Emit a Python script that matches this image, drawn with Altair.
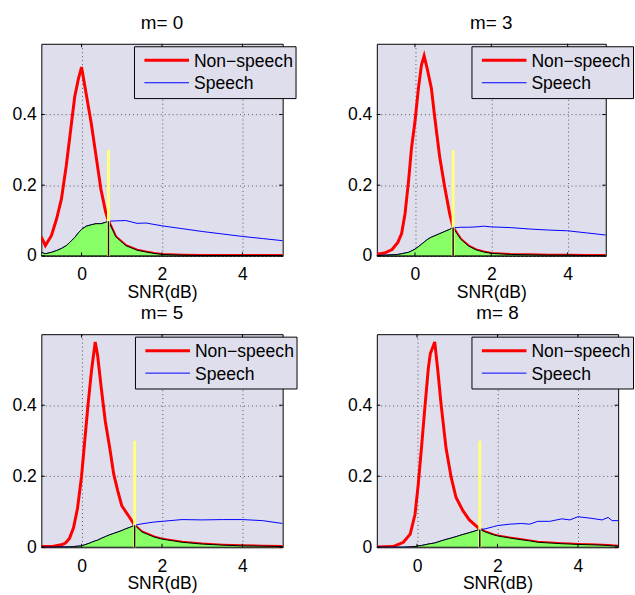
import altair as alt
import pandas as pd
import numpy as np

TITLES = ["m= 0", "m= 3", "m= 5", "m= 8"]
SERIES = ["Non−speech", "Speech"]
X_TICKS = [0, 2, 4]
Y_TICKS = [0, 0.2, 0.4]
THRESHOLDS = [0.67, 1.0, 1.32, 1.56]
YELLOW_TOP = 0.3

X_M0 = [-1.0, -0.9, -0.75, -0.62, -0.5, -0.38, -0.25, -0.17, -0.08, 0.0, 0.12, 0.24, 0.36, 0.48,
        0.6, 0.67, 0.85, 1.1, 1.38, 1.6, 1.8, 2.0, 2.5, 3.0, 3.5, 4.0, 4.5, 5.0]
NS_M0 = [0.054, 0.029, 0.057, 0.105, 0.161, 0.255, 0.376, 0.45, 0.5, 0.534, 0.455, 0.376, 0.283, 0.189,
         0.124, 0.098, 0.054, 0.029, 0.016, 0.011, 0.007, 0.004, 0.002, 0.001, 0.001, 0.001, 0.001, 0.001]
SP_M0 = [0.010, 0.006, 0.010, 0.015, 0.021, 0.029, 0.043, 0.052, 0.065, 0.075, 0.084, 0.088, 0.091, 0.091,
         0.095, 0.098, 0.099, 0.100, 0.092, 0.093, 0.089, 0.085, 0.077, 0.069, 0.062, 0.055, 0.049, 0.043]

X_M3 = [-1.0, -0.8, -0.6, -0.45, -0.35, -0.26, -0.17, -0.09, 0.0, 0.09, 0.17, 0.24, 0.32, 0.43, 0.52,
        0.65, 0.78, 0.91, 1.0, 1.1, 1.2, 1.4, 1.6, 1.8, 2.0, 2.5, 3.0, 3.5, 4.0, 4.5, 5.0]
NS_M3 = [0.005, 0.008, 0.018, 0.038, 0.063, 0.12, 0.21, 0.306, 0.38, 0.474, 0.54, 0.566, 0.53, 0.474, 0.39,
         0.278, 0.194, 0.119, 0.08, 0.063, 0.047, 0.028, 0.017, 0.011, 0.007, 0.004, 0.003, 0.002, 0.002, 0.001, 0.001]
SP_M3 = [0.001, 0.002, 0.003, 0.004, 0.006, 0.008, 0.010, 0.014, 0.019, 0.026, 0.033, 0.039, 0.046, 0.053, 0.057,
         0.063, 0.069, 0.075, 0.080, 0.080, 0.081, 0.081, 0.082, 0.084, 0.082, 0.080, 0.076, 0.073, 0.071, 0.065, 0.059]

X_M5 = [-1.0, -0.7, -0.5, -0.4, -0.3, -0.2, -0.1, 0.0, 0.08, 0.16, 0.25, 0.34, 0.4, 0.49, 0.59,
        0.7, 0.8, 0.9, 1.0, 1.1, 1.2, 1.32, 1.5, 1.8, 2.0, 2.5, 3.0, 3.5, 4.0, 4.5, 5.0]
NS_M5 = [0.002, 0.003, 0.007, 0.012, 0.025, 0.055, 0.11, 0.2, 0.3, 0.4, 0.5, 0.578, 0.54, 0.449, 0.355,
         0.28, 0.206, 0.159, 0.117, 0.1, 0.083, 0.062, 0.043, 0.029, 0.023, 0.014, 0.009, 0.006, 0.004, 0.003, 0.002]
SP_M5 = [0.0, 0.0, 0.001, 0.001, 0.001, 0.002, 0.003, 0.004, 0.007, 0.010, 0.014, 0.018, 0.020, 0.025, 0.030,
         0.035, 0.039, 0.043, 0.047, 0.052, 0.056, 0.062, 0.066, 0.071, 0.073, 0.078, 0.077, 0.078, 0.078, 0.075, 0.067]

X_M8 = [-1.0, -0.6, -0.34, -0.17, -0.05, 0.03, 0.11, 0.2, 0.28, 0.33, 0.44, 0.52, 0.6, 0.72, 0.85, 0.97,
        1.14, 1.3, 1.56, 1.7, 1.9, 2.0, 2.3, 2.6, 2.8, 3.0, 3.3, 3.6, 3.8, 4.0, 4.3, 4.6, 4.75, 4.85, 5.0]
NS_M8 = [0.001, 0.002, 0.014, 0.037, 0.093, 0.177, 0.28, 0.4, 0.503, 0.545, 0.578, 0.494, 0.4, 0.28, 0.196, 0.14,
         0.103, 0.077, 0.051, 0.043, 0.035, 0.032, 0.026, 0.021, 0.018, 0.014, 0.012, 0.010, 0.009, 0.008, 0.007,
         0.006, 0.005, 0.004, 0.003]
SP_M8 = [0.0, 0.0, 0.0, 0.001, 0.002, 0.004, 0.005, 0.007, 0.009, 0.010, 0.012, 0.015, 0.018, 0.022, 0.026, 0.030,
         0.036, 0.041, 0.050, 0.052, 0.058, 0.061, 0.065, 0.067, 0.065, 0.073, 0.073, 0.080, 0.077, 0.086, 0.082,
         0.077, 0.084, 0.075, 0.075]

FONT = "Liberation Sans"
BG = "#DEDEED"
RED = "#FF0000"
BLUE = "#0000FF"
GREEN = "#88FF66"
YELLOW = "#FFFF80"
FS = 17.7
TICK = 3.5


def panel(xs, ns, sp, thr, title, w, h, lx):
    df = pd.DataFrame({"x": xs, "ns": ns, "sp": sp})
    area_df = pd.DataFrame({"x": xs, "y": np.minimum(np.array(ns), np.array(sp))})
    i = xs.index(thr)
    cross = min(ns[i], sp[i])
    thr_df = pd.DataFrame({"x": [thr], "y0": [0.0], "y1": [YELLOW_TOP], "yc": [cross]})
    xt_df = pd.DataFrame({"x": X_TICKS})
    yt_df = pd.DataFrame({"y": Y_TICKS})
    one = pd.DataFrame({"k": [0]})

    xsc = alt.Scale(domain=[-1, 5], nice=False, zero=False)
    ysc = alt.Scale(domain=[0, 0.6], nice=False, zero=False)
    xax = alt.Axis(values=X_TICKS, title="SNR(dB)", labelPadding=10, titleY=42,
                   titleBaseline="alphabetic")
    yax = alt.Axis(values=Y_TICKS, title=None, format="~g", labelPadding=5)

    X = alt.X("x:Q", scale=xsc, axis=xax)

    red = alt.Chart(df).mark_line(color=RED, strokeWidth=3, clip=True).encode(
        x=X, y=alt.Y("ns:Q", scale=ysc, axis=yax))
    blue = alt.Chart(df).mark_line(color=BLUE, strokeWidth=1, clip=True).encode(
        x="x:Q", y="sp:Q")
    area = alt.Chart(area_df).mark_area(color=GREEN, opacity=1, stroke="black", strokeWidth=1,
                                        clip=True).encode(x="x:Q", y="y:Q")
    yel = alt.Chart(thr_df).mark_rule(color=YELLOW, strokeWidth=3).encode(
        x="x:Q", y="y0:Q", y2="y1:Q")
    blk = alt.Chart(thr_df).mark_rule(color="#111111", strokeWidth=1.5).encode(
        x="x:Q", y="y0:Q", y2="yc:Q")

    # inward tick marks on all four sides (MATLAB box style)
    xtb = alt.Chart(xt_df).mark_rule(color="black", strokeWidth=1).encode(
        x="x:Q", y=alt.value(h), y2=alt.value(h - TICK))
    xtt = alt.Chart(xt_df).mark_rule(color="black", strokeWidth=1).encode(
        x="x:Q", y=alt.value(0), y2=alt.value(TICK))
    ytl = alt.Chart(yt_df).mark_rule(color="black", strokeWidth=1).encode(
        y="y:Q", x=alt.value(0), x2=alt.value(TICK))
    ytr = alt.Chart(yt_df).mark_rule(color="black", strokeWidth=1).encode(
        y="y:Q", x=alt.value(w - TICK), x2=alt.value(w))

    box = alt.Chart(one).mark_rect(fill=BG, stroke="black", strokeWidth=1).encode(
        x=alt.value(lx), x2=alt.value(lx + 163), y=alt.value(3), y2=alt.value(55.3))
    s1 = alt.Chart(one).mark_rule(color=RED, strokeWidth=3).encode(
        x=alt.value(lx + 10), x2=alt.value(lx + 55), y=alt.value(16.7))
    s2 = alt.Chart(one).mark_rule(color=BLUE, strokeWidth=1).encode(
        x=alt.value(lx + 10), x2=alt.value(lx + 55), y=alt.value(39.3))
    t1 = alt.Chart(one).mark_text(text=SERIES[0], align="left", baseline="alphabetic", font=FONT,
                                  fontSize=FS, color="black").encode(
        x=alt.value(lx + 60), y=alt.value(23.3))
    t2 = alt.Chart(one).mark_text(text=SERIES[1], align="left", baseline="alphabetic", font=FONT,
                                  fontSize=FS, color="black").encode(
        x=alt.value(lx + 60), y=alt.value(45.8))
    ttl = alt.Chart(one).mark_text(text=title, align="center", baseline="alphabetic", font=FONT,
                                   fontSize=19, color="black").encode(
        x=alt.value(w / 2), y=alt.value(-15))

    return alt.layer(red, blue, area, yel, blk, xtb, xtt, ytl, ytr,
                     box, s1, s2, t1, t2, ttl).properties(width=w, height=h)


p1 = panel(X_M0, NS_M0, SP_M0, THRESHOLDS[0], TITLES[0], 243.5, 214, 94)
p2 = panel(X_M3, NS_M3, SP_M3, THRESHOLDS[1], TITLES[1], 231, 214, 96)
p3 = panel(X_M5, NS_M5, SP_M5, THRESHOLDS[2], TITLES[2], 243.5, 215, 95)
p4 = panel(X_M8, NS_M8, SP_M8, THRESHOLDS[3], TITLES[3], 243.5, 215, 96)

chart = alt.concat(p1, p2, p3, p4, columns=2, spacing={"row": 79, "column": 94.5},
                   bounds="flush").properties(
    padding={"left": 10.7, "top": 10.5, "right": 0, "bottom": 0},
    background="white",
).configure_view(
    fill=BG, stroke="black", strokeWidth=1
).configure_axis(
    labelFont=FONT, titleFont=FONT, labelFontSize=FS, titleFontSize=FS,
    titleFontWeight="normal", labelColor="black", titleColor="black",
    grid=True, gridColor="#555555", gridDash=[1, 3], gridWidth=1, gridOpacity=1,
    domain=False, ticks=False, tickSize=0,
)

chart.save("out.html", embed_options={"renderer": "svg", "actions": False})
